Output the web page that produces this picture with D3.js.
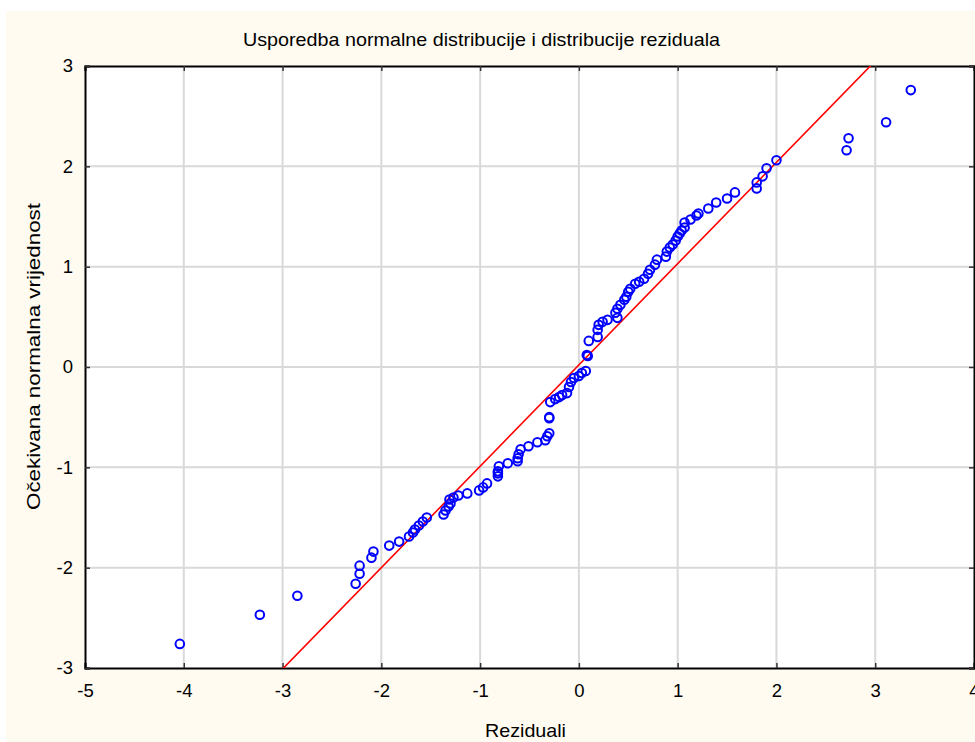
<!DOCTYPE html>
<html><head><meta charset="utf-8">
<script src="https://cdn.jsdelivr.net/npm/d3@7"></script>
<style>body{margin:0;background:#fff;}svg{display:block;}text{font-family:"Liberation Sans",Arial,sans-serif;}</style>
</head><body><svg id="c" width="975" height="742"></svg>
<script>
const residuals = [-4.04,-3.23,-2.85,-2.26,-2.22,-2.22,-2.10,-2.08,-1.92,-1.82,-1.72,-1.68,-1.66,-1.62,-1.58,-1.54,-1.37,-1.35,-1.32,-1.30,-1.31,-1.27,-1.22,-1.13,-1.01,-0.97,-0.93,-0.82,-0.82,-0.82,-0.81,-0.72,-0.62,-0.62,-0.61,-0.59,-0.51,-0.42,-0.34,-0.32,-0.30,-0.30,-0.30,-0.29,-0.24,-0.20,-0.17,-0.12,-0.10,-0.08,-0.05,0.00,0.03,0.07,0.08,0.09,0.10,0.19,0.19,0.20,0.24,0.29,0.39,0.37,0.39,0.42,0.46,0.48,0.50,0.52,0.57,0.61,0.66,0.70,0.72,0.77,0.79,0.88,0.89,0.92,0.95,0.98,1.00,1.02,1.04,1.07,1.07,1.13,1.19,1.21,1.31,1.39,1.50,1.58,1.80,1.80,1.86,1.90,2.00,2.71,2.73,3.11,3.36];
const expected = [-2.76,-2.47,-2.28,-2.16,-2.06,-1.98,-1.90,-1.84,-1.78,-1.74,-1.69,-1.65,-1.62,-1.58,-1.54,-1.50,-1.47,-1.43,-1.39,-1.36,-1.32,-1.30,-1.28,-1.26,-1.23,-1.20,-1.16,-1.09,-1.06,-1.04,-0.99,-0.96,-0.94,-0.91,-0.87,-0.82,-0.79,-0.75,-0.73,-0.69,-0.66,-0.50,-0.51,-0.35,-0.32,-0.30,-0.28,-0.26,-0.20,-0.15,-0.11,-0.09,-0.06,-0.04,0.12,0.11,0.26,0.30,0.37,0.42,0.45,0.47,0.49,0.54,0.58,0.62,0.67,0.70,0.75,0.78,0.83,0.85,0.88,0.93,0.97,1.02,1.07,1.10,1.15,1.19,1.22,1.26,1.30,1.33,1.36,1.39,1.44,1.47,1.51,1.53,1.58,1.64,1.68,1.74,1.78,1.84,1.90,1.98,2.06,2.16,2.28,2.44,2.76];
const xTicks = [-5,-4,-3,-2,-1,0,1,2,3,4];
const yTicks = [-3,-2,-1,0,1,2,3];
const fitIntercept = 0.02, fitSlope = 1.01;
const titleText = "Usporedba normalne distribucije i distribucije reziduala";
const xTitle = "Reziduali";
const yTitle = "Očekivana normalna vrijednost";

const svg = d3.select("#c");
const L = 85, R = 974, T = 66, B = 668;
const x = d3.scaleLinear().domain([-5,4]).range([L,R]);
const y = d3.scaleLinear().domain([-3,3]).range([B,T]);
const fmt = d => String(d);

svg.append("rect").attr("x",6).attr("y",11).attr("width",975).attr("height",742).attr("fill","#fffbf0");
svg.append("rect").attr("x",L).attr("y",T).attr("width",R-L).attr("height",B-T).attr("fill","#fff");

// grid
svg.append("g").selectAll("line").data(xTicks.slice(1,-1)).join("line")
  .attr("x1",d=>x(d)).attr("x2",d=>x(d)).attr("y1",T).attr("y2",B)
  .attr("stroke","#d9d9d9").attr("stroke-width",2);
svg.append("g").selectAll("line").data(yTicks.slice(1,-1)).join("line")
  .attr("y1",d=>y(d)).attr("y2",d=>y(d)).attr("x1",L).attr("x2",R)
  .attr("stroke","#d9d9d9").attr("stroke-width",2);

// axes with inward ticks
const gx = svg.append("g").attr("transform",`translate(0,${B})`)
  .call(d3.axisBottom(x).tickValues(xTicks).tickSize(-5).tickPadding(16).tickFormat(fmt));
const gxt = svg.append("g").attr("transform",`translate(0,${T})`)
  .call(d3.axisTop(x).tickValues(xTicks).tickSize(-5).tickFormat(""));
const gy = svg.append("g").attr("transform",`translate(${L},0)`)
  .call(d3.axisLeft(y).tickValues(yTicks).tickSize(-5).tickPadding(12).tickFormat(fmt));
const gyr = svg.append("g").attr("transform",`translate(${R},0)`)
  .call(d3.axisRight(y).tickValues(yTicks).tickSize(-5).tickFormat(""));
[gx,gxt,gy,gyr].forEach(g=>{
  g.select(".domain").attr("stroke","#000").attr("stroke-width",2);
  g.selectAll(".tick line").attr("stroke","#333").attr("stroke-width",1.5);
  g.selectAll(".tick text").attr("font-size",18.5).attr("fill","#000").attr("font-family","'Liberation Sans',Arial,sans-serif");
});
gx.selectAll(".tick text").attr("dy","0.7em");

// clip
svg.append("clipPath").attr("id","clip").append("rect").attr("x",L).attr("y",T).attr("width",R-L).attr("height",B-T);

// fitted line
const xd = x.domain();
svg.append("line").attr("clip-path","url(#clip)")
  .attr("x1",x(xd[0])).attr("y1",y(fitIntercept+fitSlope*xd[0]))
  .attr("x2",x(xd[1])).attr("y2",y(fitIntercept+fitSlope*xd[1]))
  .attr("stroke","#ff0000").attr("stroke-width",1.6);

// points
svg.append("g").selectAll("circle").data(residuals.map((r,i)=>[r,expected[i]])).join("circle")
  .attr("cx",d=>x(d[0])).attr("cy",d=>y(d[1])).attr("r",4.3)
  .attr("fill","none").attr("stroke","#0000ff").attr("stroke-width",2);

// texts
svg.append("text").attr("x",481.5).attr("y",46).attr("text-anchor","middle").attr("font-size",18.5)
  .attr("textLength",477).attr("lengthAdjust","spacingAndGlyphs").text(titleText);
svg.append("text").attr("x",525.5).attr("y",737).attr("text-anchor","middle").attr("font-size",18.5)
  .attr("textLength",81).attr("lengthAdjust","spacingAndGlyphs").text(xTitle);
svg.append("text").attr("transform","translate(40,356.5) rotate(-90)").attr("text-anchor","middle").attr("font-size",18.5)
  .attr("textLength",307).attr("lengthAdjust","spacingAndGlyphs").text(yTitle);
</script></body></html>
